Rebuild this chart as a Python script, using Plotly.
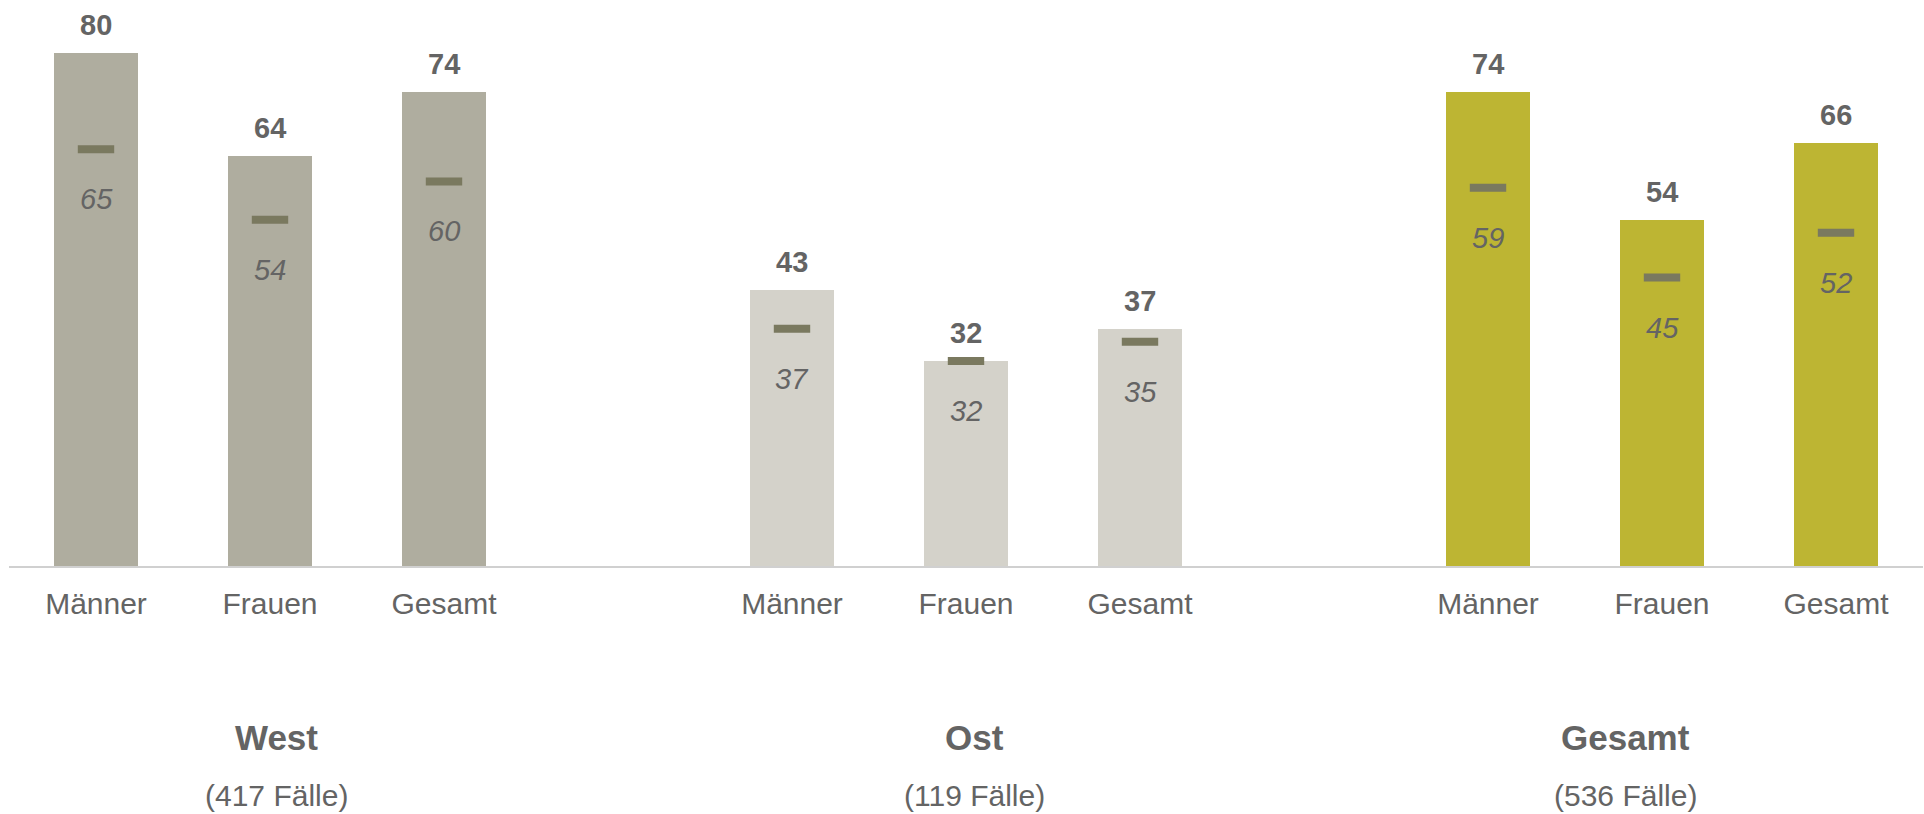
import plotly.graph_objects as go

# ---- data ----
categories = ["Männer", "Frauen", "Gesamt"]
groups = ["West", "Ost", "Gesamt"]
group_cases = ["(417 Fälle)", "(119 Fälle)", "(536 Fälle)"]

values_west = [80, 64, 74]
values_ost = [43, 32, 37]
values_gesamt = [74, 54, 66]

ref_west = [65, 54, 60]
ref_ost = [37, 32, 35]
ref_gesamt = [59, 45, 52]

# ---- styles ----
group_colors = ["#afad9f", "#d4d2ca", "#bdb533"]
group_label_xshift = [6, 8, -37]
marker_color = "#7a795f"
text_color = "#646464"
font_family = "Liberation Sans, Arial, Helvetica, sans-serif"

series_values = [values_west, values_ost, values_gesamt]
series_refs = [ref_west, ref_ost, ref_gesamt]

xs, ys, refs, cols, ticks, ticktext = [], [], [], [], [], []
for g in range(len(groups)):
    for i, cat in enumerate(categories):
        p = g * (len(categories) + 1) + i
        xs.append(p)
        ys.append(series_values[g][i])
        refs.append(series_refs[g][i])
        cols.append(group_colors[g])
        ticks.append(p)
        ticktext.append(cat)

fig = go.Figure()
fig.add_trace(go.Bar(
    x=xs, y=ys, width=0.48,
    marker=dict(color=cols, line=dict(width=0)),
    hoverinfo="skip", showlegend=False,
))
fig.add_trace(go.Scatter(
    x=xs, y=refs, mode="markers",
    marker=dict(symbol="line-ew", size=26,
                line=dict(width=8, color=marker_color), color=marker_color),
    hoverinfo="skip", showlegend=False,
))

annotations = []
for x, v, r in zip(xs, ys, refs):
    annotations.append(dict(
        x=x, y=v, xref="x", yref="y", text=f"<b>{v}</b>", showarrow=False,
        yanchor="middle", yshift=28,
        font=dict(size=29, color=text_color, family=font_family)))
    annotations.append(dict(
        x=x, y=r, xref="x", yref="y", text=f"<i>{r}</i>", showarrow=False,
        yanchor="middle", yshift=-50,
        font=dict(size=29, color=text_color, family=font_family)))

for g, (name, cases) in enumerate(zip(groups, group_cases)):
    center = g * (len(categories) + 1) + (len(categories) - 1) / 2
    annotations.append(dict(
        x=center, y=0, xref="x", yref="paper", text=f"<b>{name}</b>",
        showarrow=False, yanchor="middle", yshift=-171,
        xshift=group_label_xshift[g],
        font=dict(size=35, color=text_color, family=font_family)))
    annotations.append(dict(
        x=center, y=0, xref="x", yref="paper", text=cases,
        showarrow=False, yanchor="middle", yshift=-229,
        xshift=group_label_xshift[g],
        font=dict(size=30, color=text_color, family=font_family)))

fig.update_layout(
    width=1924, height=814,
    margin=dict(l=9, r=1, t=0, b=248),
    paper_bgcolor="white", plot_bgcolor="white",
    annotations=annotations,
    bargap=0,
    font=dict(family=font_family, color=text_color),
)
fig.update_xaxes(
    range=[-0.5, 10.5], tickvals=ticks, ticktext=ticktext,
    showgrid=False, zeroline=False,
    showline=True, linecolor="#d0d0d0", linewidth=2,
    ticks="outside", ticklen=10, tickcolor="rgba(0,0,0,0)",
    tickfont=dict(size=30, color=text_color, family=font_family),
)
fig.update_yaxes(
    range=[0, 566 / 6.41], visible=False, showgrid=False, zeroline=False,
)

fig.write_html("out.html", config={"displayModeBar": False},
               post_script="document.body.style.margin='0';document.body.style.overflow='hidden';")
